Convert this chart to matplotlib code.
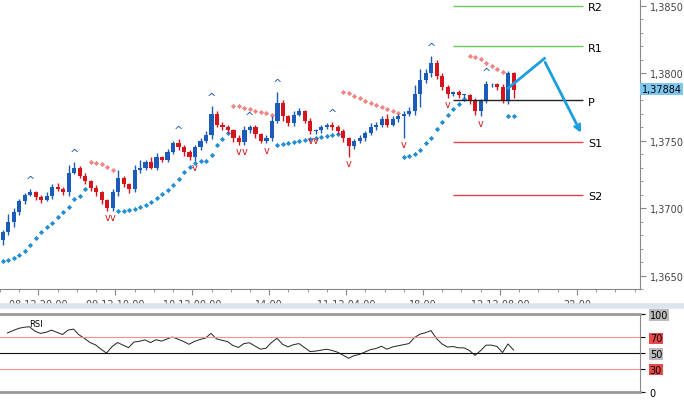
import matplotlib
matplotlib.use("Agg")
import matplotlib.pyplot as plt
import numpy as np

closes = [1.3682,1.3690,1.3697,1.3705,1.3710,1.3712,1.3708,1.3706,1.3709,1.3716,
          1.3714,1.3712,1.3726,1.3730,1.3724,1.3720,1.3715,1.3712,1.3706,1.3700,
          1.3712,1.3722,1.3718,1.3714,1.3728,1.3730,1.3734,1.3730,1.3738,1.3736,
          1.3742,1.3748,1.3745,1.3742,1.3738,1.3745,1.3750,1.3754,1.3770,1.3762,
          1.3760,1.3758,1.3752,1.3749,1.3758,1.3760,1.3755,1.3750,1.3752,1.3765,
          1.3778,1.3768,1.3763,1.3769,1.3772,1.3765,1.3757,1.3758,1.3760,1.3762,
          1.3760,1.3757,1.3752,1.3746,1.3750,1.3752,1.3756,1.3760,1.3762,1.3766,
          1.3762,1.3766,1.3768,1.3770,1.3772,1.3785,1.3795,1.3800,1.3808,1.3798,
          1.3790,1.3785,1.3786,1.3784,1.3784,1.3780,1.3772,1.3780,1.3792,1.3792,
          1.3790,1.3780,1.3800,1.3788]
open0 = 1.3676
upper_wick = [2,6,3,2,1,2,1,2,3,2, 3,2,6,4,1,2,1,2,1,1, 2,6,2,1,4,6,2,4,3,1,
              2,2,3,2,1,2,2,3,6,2, 2,2,1,2,3,2,2,1,2,3, 8,2,1,3,2,1,2,1,2,1,
              2,2,2,1,1,2,1,3,2,2, 4,2,2,2,3,6,8,3,5,2, 2,1,1,2,1,1,2,1,2,1,
              1,2,2,1]
lower_wick = [3,2,4,2,2,1,2,2,1,2, 1,2,3,1,2,2,2,3,3,2, 2,3,2,3,2,2,2,1,2,2,
              2,2,2,3,2,3,2,2,3,2, 2,2,3,2,2,2,3,2,2,2, 2,3,2,2,1,2,2,2,2,1,
              2,2,3,8,2,2,2,2,2,2, 2,1,2,16,2,3,10,2,3,2, 2,3,2,2,2,3,3,4,2,2,
              2,2,3,6]
time_labels = ["08.12 20:00","09.12 10:00","10.12 00:00","14:00","11.12 04:00","18:00","12.12 08:00","22:00"]
pivot_names = ["R2","R1","P","S1","S2"]
pivot_values = [1.3850,1.3820,1.3780,1.3749,1.3710]
pivot_colors = ["#66cc55","#66cc55","#222222","#dd4444","#dd4444"]
last_price = 1.37884
price_ticks = [1.3650,1.3700,1.3750,1.3800,1.3850]
rsi_ticks = [0,30,50,70,100]

closes = np.array(closes)
n = len(closes)
opens = np.concatenate([[open0], closes[:-1]])
highs = np.maximum(opens, closes) + np.array(upper_wick)*0.0001
lows = np.minimum(opens, closes) - np.array(lower_wick)*0.0001
idx = np.arange(n)

def psar(h, l, step=0.02, mx=0.2):
    sar = np.zeros(len(h)); up = True; af = step; ep = h[0]; sar[0] = l[0] - 0.0012
    trend = np.zeros(len(h), bool); trend[0] = True
    for i in range(1, len(h)):
        s = sar[i-1] + af*(ep - sar[i-1])
        if up:
            s = min(s, l[i-1], l[max(i-2,0)])
            if l[i] < s:
                up = False; s = ep; ep = l[i]; af = step
            else:
                if h[i] > ep: ep = h[i]; af = min(af+step, mx)
        else:
            s = max(s, h[i-1], h[max(i-2,0)])
            if h[i] > s:
                up = True; s = ep; ep = h[i]; af = step
            else:
                if l[i] < ep: ep = l[i]; af = min(af+step, mx)
        sar[i] = s; trend[i] = up
    return sar, trend
sar, trend = psar(highs, lows)

def rsi(c, p=14):
    d = np.diff(c); g = np.where(d>0,d,0); ls = np.where(d<0,-d,0)
    ag = 0.00025; al = 0.0001; out = [np.nan]
    for i in range(len(d)):
        ag = (ag*(p-1)+g[i])/p; al = (al*(p-1)+ls[i])/p
        out.append(100 - 100/(1+ag/al))
    return np.array(out)
r = rsi(closes, 14)

fig = plt.figure(figsize=(6.84,4.02), dpi=100)
x0 = -0.364; x1 = 116
ax = fig.add_axes([0, 1-290/402, 640/684, 290/402])
ax.set_xlim(x0, x1)
ax.set_ylim(1.3850 - (290-7)*0.0000735, 1.3850 + 7*0.0000735)
blue = "#1a5cb8"; red = "#d4151c"
for i in range(n):
    col = blue if closes[i] >= opens[i] else red
    ax.vlines(i, lows[i], highs[i], color=col, lw=1)
    b = max(abs(closes[i]-opens[i]), 0.00003)
    ax.add_patch(plt.Rectangle((i-0.38, min(opens[i],closes[i])), 0.76, b, color=col, lw=0))
ax.scatter(idx[trend], sar[trend], marker='D', s=7, color="#1f8ed6", lw=0)
ax.scatter(idx[~trend], sar[~trend], marker='D', s=7, color="#f08585", lw=0)
for i in range(3, n-3):
    if highs[i] == highs[i-3:i+4].max():
        ax.text(i, highs[i]+0.0003, "^", color=blue, ha='center', va='bottom', fontsize=8)
    if lows[i] == lows[i-3:i+4].min():
        ax.text(i, lows[i]-0.0001, "v", color=red, ha='center', va='top', fontsize=7)
for nm, v, c in zip(pivot_names, pivot_values, pivot_colors):
    ax.hlines(v, 82, 105.7, color=c, lw=1)
    ax.text(106.6, v-0.0001, nm, fontsize=8, va='center', ha='left')
ax.annotate("", xy=(105.5, 1.3754), xytext=(98.5, 1.3810),
            arrowprops=dict(arrowstyle='->', color="#1a9ee0", lw=2))
ax.plot([92, 98.6], [1.3789, 1.3811], color="#1a9ee0", lw=2)
ax.yaxis.tick_right()
ax.set_yticks(price_ticks)
ax.set_yticklabels([f"{v:.4f}".replace('.', ',') for v in price_ticks], fontsize=7, color="#444")
ax.set_yticks(np.arange(1.3640,1.3860,0.001), minor=True)
ax.text(x1+0.3, last_price, f"{last_price:.5f}".replace('.', ','), fontsize=7, va='center', ha='left',
        bbox=dict(boxstyle='square,pad=0.15', fc="#7ec8f0", ec='none'))
xt = [6.5 + 14*k for k in range(len(time_labels))]
ax.set_xticks(xt)
ax.set_xticklabels(time_labels, fontsize=7, color="#444")
ax.set_xticks(np.arange(-0.5, x1, 3.5), minor=True)
ax.tick_params(axis='both', which='major', length=4, color="#888")
ax.tick_params(axis='both', which='minor', length=2, color="#888")
for s in ['top','left']: ax.spines[s].set_visible(False)
for s in ['right','bottom']: ax.spines[s].set_color("#888")

ax2 = fig.add_axes([0, 1-393/402, 640/684, 78/402])
ax2.set_xlim(x0, x1); ax2.set_ylim(0, 100)
ax2.plot(idx, r, color="#222", lw=0.7)
ax2.axhline(70, color="#f09090", lw=0.8); ax2.axhline(30, color="#f09090", lw=0.8)
ax2.axhline(50, color="#111", lw=0.8)
ax2.yaxis.tick_right(); ax2.set_xticks([])
ax2.set_yticks(rsi_ticks)
ax2.set_yticklabels([str(t) for t in rsi_ticks], fontsize=7)
for lab, t in zip(ax2.get_yticklabels(), rsi_ticks):
    if t in (30, 70): lab.set_bbox(dict(fc="#e84a4a", ec='none', pad=0.5))
    elif t in (50, 100): lab.set_bbox(dict(fc="#bbbbbb", ec='none', pad=0.5))
ax2.text(5, 88, "RSI", fontsize=6, va='center')
ax2.spines['left'].set_visible(False)
for s in ['top','bottom']: ax2.spines[s].set_color("#999"); ax2.spines[s].set_linewidth(2)
ax2.spines['right'].set_color("#888")
fig.add_artist(plt.Line2D([0,1],[1-307/402]*2, color="#dde3ea", lw=4))
fig.savefig("out.png", dpi=100)
